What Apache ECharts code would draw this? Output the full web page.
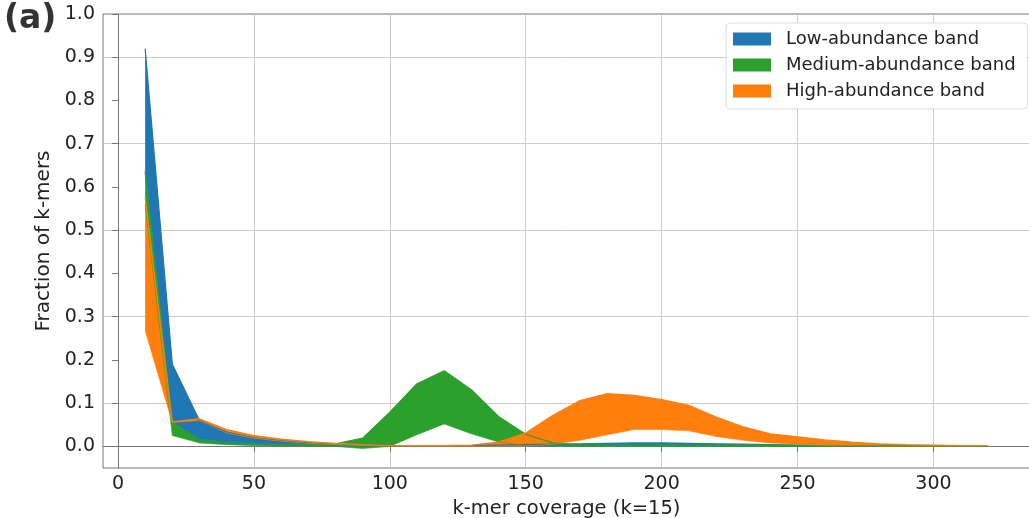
<!DOCTYPE html>
<html>
<head>
<meta charset="utf-8">
<script src="https://cdn.jsdelivr.net/npm/echarts@6/dist/echarts.min.js"></script>
<style>
  html, body { margin: 0; padding: 0; background: #fff; }
  #kmerBands { width: 1029px; height: 518px; }
</style>
</head>
<body>
<div id="kmerBands"></div>
<script>
// k-mer coverage (x) and band bounds
const coverage = [10, 20, 30, 40, 50, 60, 70, 80, 90, 100, 110, 120, 130, 140, 150, 160,
  170, 180, 190, 200, 210, 220, 230, 240, 250, 260, 270, 280, 290, 300, 310, 320];

const lowLower = [0.64, 0.056, 0.014, 0.006, 0.003, 0.002, 0.001, 0.001, 0, 0, 0, 0, 0, 0, 0, 0.001,
  0.001, 0.002, 0.002, 0.002, 0.002, 0.001, 0.001, 0.001, 0, 0, 0, 0, 0, 0, 0, 0];
const lowUpper = [0.92, 0.19, 0.060, 0.033, 0.020, 0.013, 0.008, 0.005, 0.003, 0.002, 0.002, 0.002, 0.002, 0.003, 0.004, 0.005,
  0.006, 0.007, 0.008, 0.008, 0.007, 0.006, 0.005, 0.004, 0.003, 0.002, 0.002, 0.001, 0.001, 0.001, 0.001, 0.001];

const medLower = [0.56, 0.025, 0.008, 0.004, 0.002, 0.001, 0.001, 0, -0.005, 0, 0.027, 0.052, 0.029, 0.010, 0.002, 0.001,
  0, 0, 0, 0, 0, 0, 0, 0, 0, 0, 0, 0, 0, 0, 0, 0];
const medUpper = [0.635, 0.055, 0.016, 0.009, 0.006, 0.004, 0.004, 0.006, 0.019, 0.079, 0.145, 0.175, 0.131, 0.069, 0.028, 0.008,
  0.004, 0.003, 0.003, 0.003, 0.003, 0.003, 0.003, 0.003, 0.003, 0.002, 0.002, 0.001, 0.001, 0.001, 0.001, 0.001];

const highLower = [0.268, 0.055, 0.060, 0.031, 0.019, 0.012, 0.007, 0.004, 0.002, 0.001, 0, 0, 0, 0, 0, 0.005,
  0.014, 0.027, 0.039, 0.039, 0.036, 0.023, 0.014, 0.008, 0.005, 0.003, 0.002, 0.001, 0.001, 0.001, 0.001, 0.001];
const highUpper = [0.577, 0.057, 0.064, 0.039, 0.025, 0.017, 0.011, 0.007, 0.004, 0.002, 0.002, 0.002, 0.003, 0.010, 0.031, 0.072,
  0.106, 0.122, 0.118, 0.108, 0.095, 0.068, 0.045, 0.029, 0.022, 0.015, 0.010, 0.006, 0.004, 0.003, 0.002, 0.002];

const xTicks = [0, 50, 100, 150, 200, 250, 300];
const yTicks = [0, 0.1, 0.2, 0.3, 0.4, 0.5, 0.6, 0.7, 0.8, 0.9, 1.0];

const bands = [
  { name: 'Low-abundance band', lower: lowLower, upper: lowUpper, color: '#1f77b4' },
  { name: 'Medium-abundance band', lower: medLower, upper: medUpper, color: '#2ca02c' },
  { name: 'High-abundance band', lower: highLower, upper: highUpper, color: '#ff7f0e' }
];

const font = 'DejaVu Sans';
const chart = echarts.init(document.getElementById('kmerBands'));

// rows are [y, x] so the stack runs on y (first numeric column)
let series = [];
bands.forEach((b, i) => {
  const stack = 'band' + i;
  series.push({
    name: b.name + ' base',
    type: 'line',
    stack: stack,
    stackStrategy: 'all',
    encode: { x: 1, y: 0 },
    symbol: 'none',
    silent: true,
    lineStyle: { width: 0.6, color: b.color },
    data: coverage.map((x, k) => [b.lower[k], x])
  });
  series.push({
    name: b.name,
    type: 'line',
    stack: stack,
    stackStrategy: 'all',
    encode: { x: 1, y: 0 },
    symbol: 'none',
    silent: true,
    itemStyle: { color: b.color },
    lineStyle: { width: 1.2, color: b.color },
    areaStyle: { color: b.color, opacity: 1 },
    data: coverage.map((x, k) => [b.upper[k] - b.lower[k], x])
  });
});

// y grid every 0.05 from -0.05, only every other line drawn
let yLineColors = [];
for (let i = 0; i < 22; i++) yLineColors.push(i % 2 === 1 ? '#cccccc' : 'rgba(0,0,0,0)');

const option = {
  animation: false,
  backgroundColor: '#fff',
  textStyle: { fontFamily: font },
  grid: {
    left: 103, right: -1, top: 14, bottom: 50,
    outerBoundsMode: 'none',
    show: true, borderColor: '#777', borderWidth: 1
  },
  graphic: [{
    type: 'text', left: 4, top: 3,
    style: { text: '(a)', font: 'bold 33px "DejaVu Sans"', fill: '#333' }
  }],
  legend: {
    data: bands.map(b => b.name),
    orient: 'vertical',
    left: 726, top: 23,
    padding: [6, 12, 8, 7],
    itemGap: 6,
    itemWidth: 38, itemHeight: 13,
    icon: 'rect',
    backgroundColor: '#fff',
    borderColor: '#dddddd', borderWidth: 1, borderRadius: 4,
    textStyle: { fontFamily: font, fontSize: 18, color: '#222', lineHeight: 20, padding: [0, 0, 0, 10] }
  },
  xAxis: {
    type: 'value',
    min: -5.5, max: 335.5,
    name: 'k-mer coverage (k=15)',
    nameLocation: 'middle', nameGap: 28,
    nameTextStyle: { fontFamily: font, fontSize: 19.5, color: '#222' },
    axisLine: { show: true, lineStyle: { color: '#777' } },
    axisTick: { show: true, length: 6, customValues: xTicks, lineStyle: { color: '#777' } },
    axisLabel: { customValues: xTicks, margin: 7, fontSize: 19, color: '#222', fontFamily: font },
    splitLine: { show: true, lineStyle: { color: '#cccccc', width: 1 } }
  },
  yAxis: {
    type: 'value',
    min: -0.05, max: 1.0, interval: 0.05,
    name: 'Fraction of k-mers',
    nameLocation: 'middle', nameGap: 35,
    nameTextStyle: { fontFamily: font, fontSize: 20, color: '#222' },
    axisLine: { show: true, lineStyle: { color: '#777' } },
    axisTick: { show: true, length: 6, customValues: yTicks, lineStyle: { color: '#777' } },
    axisLabel: {
      customValues: yTicks, margin: 8, fontSize: 19, color: '#222', fontFamily: font,
      formatter: v => v.toFixed(1)
    },
    splitLine: { show: true, showMinLine: true, showMaxLine: true, lineStyle: { color: yLineColors, width: 1 } }
  },
  series: series
};

chart.setOption(option);
</script>
</body>
</html>
